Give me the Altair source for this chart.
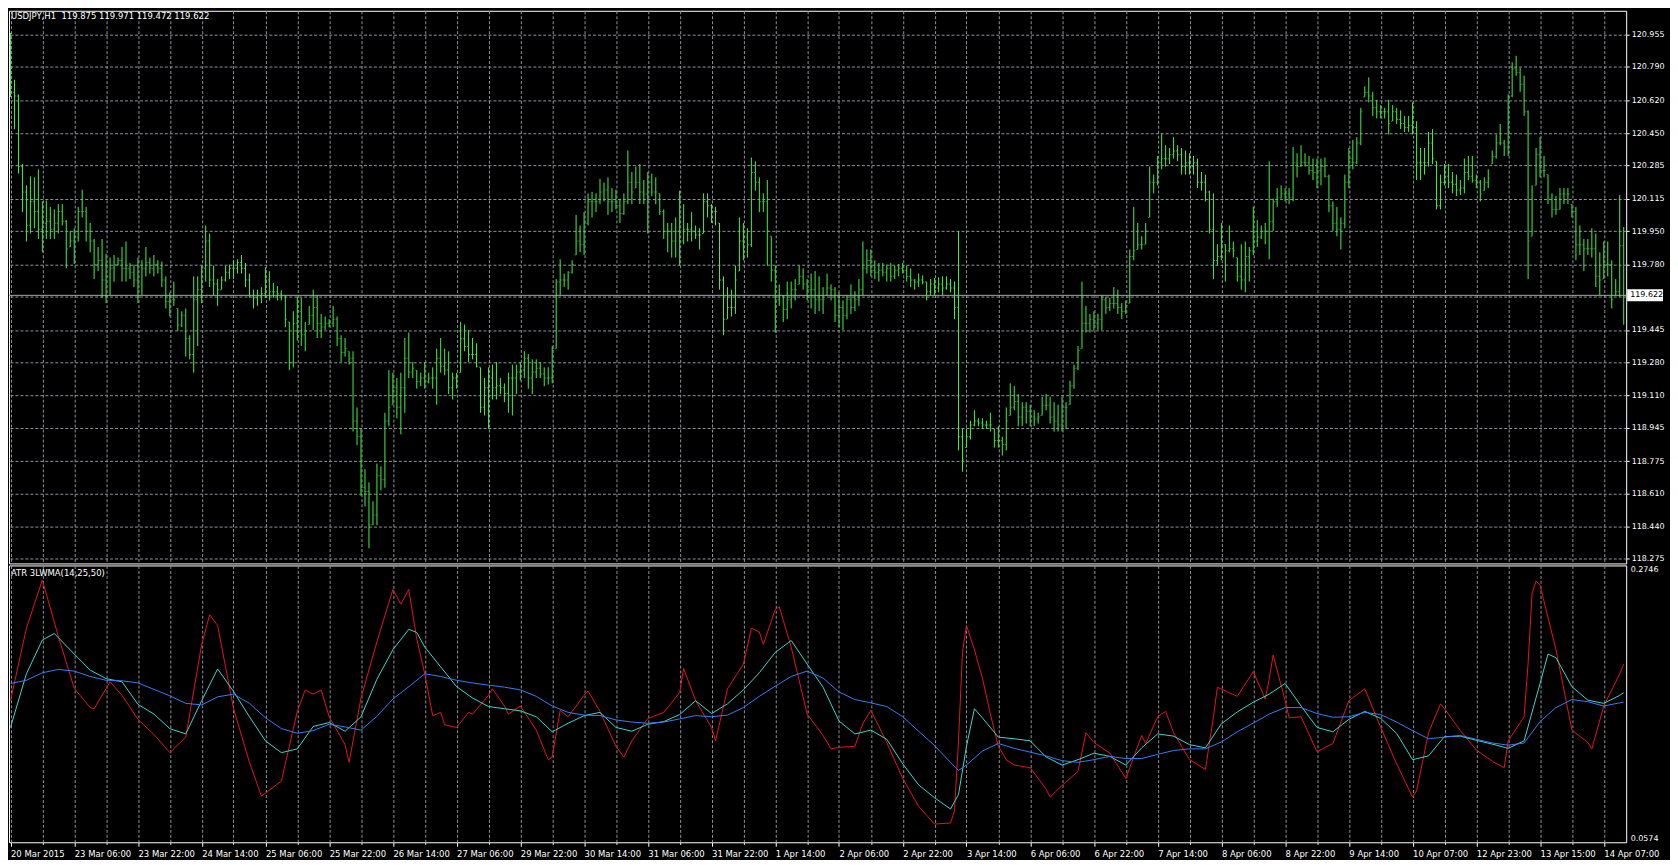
import json
import altair as alt
import pandas as pd

# ---------------- data ----------------
HIGH = [
    120.963,120.723,120.649,120.293,120.184,120.230,120.225,120.266,120.102,120.107,
    120.074,120.061,120.088,120.088,120.006,119.951,119.965,120.074,120.162,120.074,
    119.992,119.910,119.869,119.910,119.834,119.815,119.828,119.815,119.869,119.897,
    119.787,119.779,119.815,119.801,119.869,119.815,119.828,119.801,119.795,119.719,
    119.637,119.692,119.555,119.541,119.555,119.418,119.719,119.719,119.774,119.979,
    119.938,119.774,119.705,119.719,119.774,119.779,119.801,119.806,119.828,119.787,
    119.733,119.651,119.651,119.664,119.765,119.746,119.686,119.670,119.648,119.623,
    119.486,119.541,119.615,119.610,119.486,119.568,119.651,119.623,119.527,119.514,
    119.500,119.568,119.514,119.418,119.404,119.336,119.336,119.049,118.940,118.734,
    118.666,118.570,118.762,118.748,119.022,119.240,119.227,119.199,119.227,119.404,
    119.432,119.281,119.240,119.227,
    119.281,119.227,119.254,119.350,119.404,119.350,119.336,119.227,119.227,119.486,
    119.473,119.445,119.404,119.377,119.254,119.199,119.254,119.268,119.281,119.199,
    119.172,119.227,119.268,119.268,119.281,119.336,119.322,119.295,119.295,119.281,
    119.254,119.254,119.363,119.705,119.806,119.733,119.746,119.801,120.033,119.979,
    120.047,120.143,120.151,120.143,120.217,120.198,120.225,120.170,120.162,120.116,
    120.143,120.362,120.252,120.280,120.293,120.211,120.252,120.244,120.225,120.143,
    120.061,119.992,119.992,120.020,120.157,120.088,119.992,120.047,119.979,119.965,
    120.143,120.143,120.088,120.074,119.992,119.719,119.664,119.651,119.774,120.020,
    119.992,119.965,120.326,120.307,120.225,120.143,120.211,119.924,119.774,119.678,
    119.623,119.692,119.692,119.705,119.774,119.760,119.705,119.733,119.746,119.719,
    119.664,119.733,119.678,
    119.664,119.637,119.596,119.623,119.678,119.643,119.705,119.897,119.856,119.856,
    119.801,119.787,119.787,119.779,119.787,119.774,119.782,119.787,119.774,119.760,
    119.705,119.733,119.724,119.692,119.705,119.711,119.714,119.719,119.719,119.705,
    119.692,119.951,118.940,118.940,118.981,119.035,118.994,118.994,118.981,119.022,
    118.940,118.953,118.899,119.049,119.172,119.158,119.117,119.076,119.076,119.063,
    119.035,119.022,119.104,119.117,119.104,119.076,119.063,119.104,119.076,119.186,
    119.268,119.363,119.692,119.568,119.527,119.541,119.527,119.623,119.615,119.610,
    119.664,119.651,119.582,119.596,119.856,120.074,119.992,119.924,119.992,120.280,
    120.239,120.334,120.450,120.389,120.375,120.430,120.389,120.375,120.362,120.348,
    120.334,120.321,120.252,120.239,120.157,120.143,119.883,119.992,119.883,119.979,
    119.897,119.815,
    119.883,119.897,119.869,120.074,120.006,119.979,119.992,120.307,120.116,120.170,
    120.184,120.170,120.170,120.380,120.348,120.389,120.348,120.334,120.321,120.321,
    120.321,120.326,120.239,120.102,120.074,120.020,120.239,120.375,120.416,120.430,
    120.580,120.690,120.736,120.662,120.621,120.594,120.580,120.621,120.594,120.580,
    120.567,120.539,120.539,120.608,120.512,120.375,120.375,120.457,120.471,120.307,
    120.239,120.293,120.293,120.252,120.239,120.211,120.321,120.334,120.334,120.239,
    120.211,120.225,120.266,120.362,120.444,120.498,120.416,120.649,120.813,120.846,
    120.785,120.744,120.567,120.184,120.375,120.430,120.334,120.239,120.143,120.129,
    120.170,120.170,120.170,120.088,120.074,119.979,119.910,119.910,119.965,119.938,
    119.842,119.897,119.897,119.801,119.705,120.135,119.971,
]
LOW = [
    120.635,120.471,120.244,120.047,119.897,119.938,119.965,119.910,119.842,119.910,
    119.910,119.910,119.938,119.979,119.760,119.869,119.782,119.897,120.020,119.897,
    119.842,119.705,119.746,119.610,119.582,119.623,119.692,119.774,119.692,119.692,
    119.705,119.664,119.582,119.623,119.719,119.733,119.719,119.733,119.664,119.555,
    119.514,119.568,119.440,119.459,119.309,119.295,119.227,119.363,119.582,119.692,
    119.664,119.623,119.568,119.651,119.692,119.705,119.705,119.733,119.733,119.664,
    119.610,119.555,119.568,119.582,119.610,119.596,119.610,119.596,119.596,119.459,
    119.240,119.254,119.391,119.363,119.336,119.473,119.445,119.404,119.404,119.445,
    119.459,119.459,119.363,119.281,119.309,119.268,118.926,118.857,118.598,118.543,
    118.330,118.447,118.447,118.625,118.639,118.953,119.063,118.994,118.912,119.022,
    119.199,119.199,119.145,119.158,
    119.145,119.172,119.145,119.063,119.227,119.213,119.117,119.090,119.145,119.227,
    119.336,119.281,119.295,119.254,119.022,119.008,118.940,119.090,119.090,119.117,
    119.076,119.022,119.008,119.117,119.186,119.199,119.145,119.117,119.199,119.199,
    119.158,119.166,119.172,119.350,119.623,119.664,119.651,119.733,119.828,119.842,
    119.828,119.979,120.020,120.047,120.088,120.102,120.033,120.047,120.061,119.992,
    120.033,120.088,120.088,120.170,120.088,120.088,119.938,120.129,120.088,120.033,
    119.910,119.842,119.815,119.815,119.774,119.883,119.897,119.897,119.910,119.856,
    119.938,120.020,119.992,119.979,119.651,119.418,119.500,119.514,119.527,119.746,
    119.801,119.815,119.869,120.157,120.047,120.047,119.774,119.692,119.432,119.568,
    119.486,119.500,119.555,119.596,119.678,119.651,119.596,119.555,119.527,119.541,
    119.527,119.623,119.596,
    119.486,119.459,119.445,119.500,119.527,119.541,119.568,119.623,119.733,119.719,
    119.705,119.692,119.719,119.692,119.692,119.705,119.719,119.733,119.692,119.664,
    119.651,119.664,119.678,119.596,119.623,119.623,119.637,119.623,119.651,119.637,
    119.500,118.830,118.721,118.844,118.885,118.953,118.953,118.940,118.940,118.926,
    118.844,118.844,118.803,118.830,119.008,119.035,118.953,118.953,118.967,118.953,
    118.953,118.967,119.008,119.035,118.967,118.926,118.926,118.926,118.940,119.063,
    119.145,119.240,119.350,119.432,119.432,119.445,119.445,119.445,119.527,119.541,
    119.555,119.527,119.500,119.527,119.582,119.801,119.856,119.856,119.883,120.020,
    120.143,120.184,120.266,120.280,120.293,120.321,120.307,120.239,120.239,120.239,
    120.239,120.170,120.157,120.102,119.938,119.705,119.774,119.801,119.692,119.842,
    119.815,119.692,
    119.651,119.637,119.692,119.828,119.869,119.910,119.883,119.806,119.951,120.074,
    120.116,120.102,120.088,120.102,120.225,120.280,120.280,120.239,120.211,120.170,
    120.184,120.225,120.047,119.951,119.924,119.856,119.965,120.170,120.266,120.293,
    120.389,120.635,120.608,120.539,120.526,120.526,120.526,120.444,120.512,120.498,
    120.471,120.457,120.457,120.444,120.211,120.211,120.239,120.280,120.293,120.061,
    120.061,120.184,120.170,120.143,120.129,120.135,120.143,120.211,120.198,120.170,
    120.102,120.157,120.170,120.293,120.321,120.389,120.334,120.334,120.635,120.744,
    120.662,120.539,119.705,119.924,120.184,120.225,120.225,120.088,120.020,120.033,
    120.061,120.088,120.088,120.020,119.801,119.828,119.746,119.828,119.815,119.664,
    119.623,119.705,119.719,119.555,119.623,119.615,119.472,
]
CLOSE = [
    120.660,120.640,120.280,120.150,119.980,120.100,120.050,119.960,119.990,120.000,
    119.960,119.990,120.050,120.000,119.860,119.900,119.920,120.050,120.050,119.950,
    119.900,119.780,119.800,119.700,119.720,119.760,119.780,119.800,119.760,119.760,
    119.740,119.700,119.680,119.760,119.790,119.760,119.780,119.760,119.700,119.590,
    119.600,119.600,119.470,119.520,119.400,119.320,119.600,119.650,119.760,119.900,
    119.700,119.680,119.650,119.700,119.740,119.760,119.760,119.790,119.760,119.700,
    119.620,119.610,119.620,119.630,119.700,119.640,119.640,119.630,119.620,119.500,
    119.280,119.480,119.540,119.420,119.440,119.520,119.560,119.480,119.460,119.480,
    119.480,119.500,119.400,119.330,119.350,119.300,118.980,118.900,118.640,118.620,
    118.450,118.500,118.700,118.680,118.980,119.050,119.150,119.050,119.150,119.300,
    119.230,119.250,119.180,119.200,
    119.180,119.200,119.200,119.300,119.260,119.240,119.150,119.200,119.200,119.400,
    119.360,119.320,119.320,119.260,119.050,119.150,119.200,119.150,119.160,119.150,
    119.120,119.200,119.200,119.230,119.240,119.300,119.200,119.230,119.250,119.220,
    119.200,119.200,119.350,119.690,119.700,119.700,119.740,119.780,119.900,119.880,
    119.990,120.100,120.100,120.100,120.150,120.160,120.100,120.100,120.080,120.040,
    120.100,120.200,120.150,120.200,120.150,120.140,120.200,120.150,120.150,120.050,
    119.950,119.950,119.900,119.950,119.900,119.960,119.960,119.950,119.930,119.930,
    120.100,120.080,120.050,120.050,119.700,119.500,119.560,119.560,119.700,119.900,
    119.920,119.880,120.250,120.200,120.100,120.100,119.950,119.750,119.600,119.620,
    119.550,119.600,119.650,119.650,119.720,119.680,119.650,119.650,119.600,119.600,
    119.600,119.660,119.650,
    119.520,119.560,119.520,119.600,119.560,119.600,119.650,119.760,119.800,119.750,
    119.740,119.750,119.740,119.760,119.720,119.750,119.760,119.750,119.720,119.700,
    119.690,119.700,119.690,119.640,119.680,119.660,119.680,119.660,119.680,119.660,
    119.560,118.900,118.780,118.900,118.960,118.980,118.970,118.960,118.960,118.960,
    118.880,118.880,118.860,118.980,119.050,119.080,119.000,119.050,119.030,119.000,
    118.990,119.000,119.060,119.060,119.000,118.980,118.960,119.050,119.050,119.160,
    119.250,119.340,119.480,119.480,119.500,119.480,119.500,119.600,119.560,119.580,
    119.580,119.560,119.540,119.570,119.820,119.850,119.880,119.880,119.950,120.200,
    120.200,120.300,120.320,120.320,120.340,120.360,120.340,120.280,120.300,120.280,
    120.300,120.200,120.200,120.150,119.960,119.800,119.820,119.880,119.850,119.860,
    119.850,119.720,
    119.700,119.820,119.850,119.900,119.920,119.950,119.950,120.000,120.100,120.120,
    120.140,120.140,120.120,120.300,120.280,120.300,120.300,120.260,120.250,120.260,
    120.280,120.230,120.080,119.990,119.960,119.990,120.200,120.320,120.300,120.400,
    120.560,120.660,120.640,120.580,120.560,120.560,120.560,120.500,120.560,120.520,
    120.500,120.480,120.490,120.480,120.300,120.300,120.300,120.400,120.320,120.080,
    120.200,120.230,120.200,120.190,120.160,120.170,120.250,120.230,120.210,120.200,
    120.140,120.200,120.220,120.330,120.400,120.400,120.380,120.640,120.780,120.760,
    120.700,120.560,119.900,120.150,120.340,120.260,120.260,120.120,120.060,120.060,
    120.140,120.140,120.140,120.050,119.880,119.880,119.860,119.860,119.860,119.720,
    119.700,119.780,119.780,119.600,119.640,119.875,119.622,
]
FIRST_OPEN = 120.900

RED_I = [0,4,8,12,16,20,21,25,28,32,36,40,44,48,50,52,56,60,63,68,72,74,76,78,80,84,85,88,92,96,98,100,102,
         104,106,108,109,112,115,116,120,121,124,125,128,132,135,136,138,140,144,145,148,152,154,156,160,164,
         168,169,172,176,177,180,184,186,188,189,192,193,196,200,204,206,208,212,214,216,220,224,228,232,236,
         237,238,239,240,242,244,246,248,250,252,256,260,261,264,268,270,272,276,280,284,285,288,290,292,296,
         300,302,303,308,312,315,316,317,320,321,324,328,332,336,340,344,348,352,353,356,359,360,364,368,372,
         375,376,380,381,382,383,384,388,392,396,397,400,404,405]
RED_V = [0.1685,0.2254,0.2632,0.2190,0.1782,0.1631,0.1622,0.1833,0.1727,0.1538,0.1420,0.1277,0.1399,0.2127,
         0.2359,0.2275,0.1622,0.1201,0.0936,0.1054,0.1601,0.1769,0.1736,0.1769,0.1559,0.1340,0.1201,0.1706,
         0.2148,0.2557,0.2443,0.2557,0.2170,
         0.1896,0.1567,0.1593,0.1496,0.1475,0.1593,0.1580,0.1727,0.1778,0.1643,0.1580,0.1643,0.1454,0.1222,
         0.1243,0.1609,0.1559,0.1727,0.1761,0.1601,0.1327,0.1243,0.1370,0.1546,0.1593,0.1748,0.1938,0.1685,
         0.1475,0.1370,0.1778,0.1971,0.2254,0.2224,0.2127,0.2401,0.2422,0.2106,0.1580,0.1412,0.1307,
         0.1319,0.1327,0.1508,0.1609,0.1357,0.1075,0.0856,0.0717,0.0725,0.0822,0.1370,0.2064,0.2275,0.2085,
         0.1862,0.1580,0.1327,0.1222,0.1180,0.1159,0.0991,0.0928,0.1020,0.1130,0.1433,0.1357,0.1273,0.1075,
         0.1412,0.1349,0.1559,0.1601,0.1433,0.1222,0.1146,0.1559,0.1790,0.1719,
         0.1913,0.1698,0.1854,0.2043,0.1685,0.1551,0.1559,0.1285,0.1349,0.1685,0.1778,0.1475,0.1189,0.0928,
         0.0978,0.1433,0.1660,0.1622,0.1450,0.1298,0.1210,0.1159,0.1370,0.1559,0.1980,0.2527,0.2624,0.2590,
         0.2085,0.1454,0.1357,0.1307,0.1643,0.1896,0.1971]

CYAN_I = [0,4,8,11,16,20,24,28,32,36,40,44,48,52,56,60,64,68,72,76,80,84,88,92,96,100,102,
          104,108,112,116,120,124,128,132,136,140,144,148,152,156,160,164,168,172,176,180,184,188,192,196,
          200,204,208,212,216,220,224,228,232,236,238,240,242,244,248,252,256,260,264,268,272,276,280,284,
          288,292,296,300,304,308,312,316,320,324,328,332,336,340,344,348,352,356,360,364,368,372,376,380,
          384,386,388,392,396,400,404,405]
CYAN_V = [0.1475,0.1896,0.2161,0.2212,0.2051,0.1925,0.1858,0.1833,0.1656,0.1580,0.1466,0.1424,0.1685,0.1934,
          0.1757,0.1559,0.1370,0.1277,0.1307,0.1483,0.1513,0.1445,0.1559,0.1854,0.2085,0.2245,0.2220,
          0.2106,0.1950,0.1795,0.1706,0.1639,0.1622,0.1605,0.1559,0.1441,0.1508,0.1567,0.1593,0.1475,0.1445,
          0.1500,0.1521,0.1576,0.1685,0.1584,0.1660,0.1770,0.1904,0.2064,0.2157,0.1972,0.1791,
          0.1525,0.1424,0.1454,0.1382,0.1189,0.1024,0.0923,0.0835,0.0949,0.1327,0.1622,0.1550,0.1399,0.1386,
          0.1370,0.1243,0.1180,0.1222,0.1273,0.1248,0.1180,0.1315,0.1424,0.1407,0.1340,0.1315,0.1504,0.1597,
          0.1673,0.1736,0.1820,0.1643,0.1475,0.1441,0.1538,0.1601,0.1546,0.1428,0.1222,0.1252,0.1403,0.1407,
          0.1374,0.1344,0.1311,0.1370,0.1820,0.2051,0.2022,0.1795,0.1689,0.1664,0.1727,0.1748]

BLUE_I = [0,4,8,12,16,20,24,28,32,36,40,44,48,52,56,60,64,68,72,76,80,84,88,92,96,100,
          104,108,112,116,120,124,128,132,136,140,144,148,152,156,160,164,168,172,176,180,184,188,192,196,
          200,204,208,212,216,220,224,228,232,236,238,240,244,248,252,256,260,264,268,272,276,280,284,288,
          292,296,300,304,308,312,316,320,324,328,332,336,340,344,348,352,356,360,364,368,372,376,380,384,
          388,392,396,400,404,405]
BLUE_V = [0.1820,0.1845,0.1904,0.1930,0.1917,0.1875,0.1845,0.1841,0.1824,0.1774,0.1723,0.1664,0.1652,0.1715,
          0.1736,0.1664,0.1551,0.1466,0.1429,0.1450,0.1500,0.1479,0.1454,0.1563,0.1698,0.1795,
          0.1896,0.1875,0.1845,0.1824,0.1807,0.1791,0.1770,0.1719,0.1643,0.1593,0.1572,0.1568,0.1534,0.1517,
          0.1508,0.1517,0.1542,0.1568,0.1559,0.1572,0.1631,0.1719,0.1799,0.1875,0.1917,0.1862,
          0.1753,0.1694,0.1668,0.1639,0.1559,0.1445,0.1332,0.1201,0.1138,0.1180,0.1290,0.1349,0.1311,0.1281,
          0.1252,0.1214,0.1201,0.1222,0.1248,0.1231,0.1231,0.1264,0.1294,0.1307,0.1307,0.1361,0.1441,0.1509,
          0.1580,0.1631,0.1631,0.1584,0.1555,0.1559,0.1593,0.1576,0.1517,0.1450,0.1386,0.1399,0.1412,0.1382,
          0.1353,0.1336,0.1353,0.1521,0.1631,0.1694,0.1677,0.1643,0.1668,0.1673]

X_LABELS = ["20 Mar 2015", "23 Mar 06:00", "23 Mar 22:00", "24 Mar 14:00", "25 Mar 06:00",
            "25 Mar 22:00", "26 Mar 14:00", "27 Mar 06:00", "29 Mar 22:00", "30 Mar 14:00",
            "31 Mar 06:00", "31 Mar 22:00", "1 Apr 14:00", "2 Apr 06:00", "2 Apr 22:00",
            "3 Apr 14:00", "6 Apr 06:00", "6 Apr 22:00", "7 Apr 14:00", "8 Apr 06:00",
            "8 Apr 22:00", "9 Apr 14:00", "10 Apr 07:00", "12 Apr 23:00", "13 Apr 15:00",
            "14 Apr 07:00"]
PRICE_TICKS = [120.955, 120.790, 120.620, 120.450, 120.285, 120.115, 119.950, 119.780, 119.615,
               119.445, 119.280, 119.110, 118.945, 118.775, 118.610, 118.440, 118.275]
ATR_TICKS = [0.0574, 0.2746]
CUR_PRICE = 119.622
HEADER = "USDJPY,H1\u00a0\u00a0119.875 119.971 119.472 119.622"
IND_TITLE = "ATR 3LWMA(14,25,50)"

assert len(HIGH) == len(LOW) == len(CLOSE) == 406
assert len(RED_I) == len(RED_V) and len(CYAN_I) == len(CYAN_V) and len(BLUE_I) == len(BLUE_V)

# ---------------- frames ----------------
n = len(HIGH)
bars = pd.DataFrame({"i": list(range(n)), "high": HIGH, "low": LOW, "close": CLOSE,
                     "open": [FIRST_OPEN] + CLOSE[:-1]})
bars["open"] = bars["open"].clip(lower=bars["low"], upper=bars["high"])
red_df = pd.DataFrame({"i": RED_I, "v": RED_V})
cyan_df = pd.DataFrame({"i": CYAN_I, "v": CYAN_V})
blue_df = pd.DataFrame({"i": BLUE_I, "v": BLUE_V})
cur_df = pd.DataFrame({"p": [CUR_PRICE], "label": [f"{CUR_PRICE:.3f}"]})

# ---------------- style ----------------
W, H1, H2 = 1624, 555, 278          # svg must stay <= 1662 px wide (body width)
FONT = "DejaVu Sans"
FS = 8.5
AFS = 8
GRID = "#8c949c"
GREEN = "#46f046"
RED, CYAN, BLUE = "#e3161c", "#40d6cc", "#3a7cf2"

# exactly 4 px per bar, bar centres on half pixels (crisp 1px bars)
XS = alt.Scale(domain=[-0.375, -0.375 + W / 4], nice=False, zero=False)
YS1 = alt.Scale(domain=[118.252, 121.076], nice=False, zero=False)
YS2 = alt.Scale(domain=[ATR_TICKS[0], ATR_TICKS[1]], nice=False, zero=False)

xvals = list(range(0, 408, 8))
lbl_arr = json.dumps(X_LABELS)

x_top_axis = alt.Axis(values=xvals, grid=True, gridColor=GRID, gridDash=[3, 2], gridWidth=1,
                      labels=False, ticks=False, domain=False, title=None)
x_bot_axis = alt.Axis(values=xvals, grid=True, gridColor=GRID, gridDash=[3, 2], gridWidth=1,
                      labelExpr=f"datum.value % 16 == 0 ? {lbl_arr}[datum.value / 16] : ''",
                      labelAlign="left", labelBaseline="top", labelPadding=3, labelOverlap=False,
                      labelFlush=False, labelColor="white", labelFont=FONT, labelFontSize=FS,
                      ticks=True, tickColor="white", tickWidth=1,
                      tickSize={"condition": {"test": "datum.value % 16 == 0", "value": 4}, "value": 2},
                      domain=False, title=None)
y_top_axis = alt.Axis(orient="right", values=PRICE_TICKS,
                      labelExpr="abs(datum.value - 119.615) < 0.001 ? '' : format(datum.value, '.3f')",
                      grid=True, gridColor=GRID, gridDash=[3, 2], gridWidth=1,
                      ticks=True, tickSize=3, tickColor="white", labelPadding=2,
                      labelColor="white", labelFont=FONT, labelFontSize=AFS,
                      domain=False, title=None)
y_bot_axis = alt.Axis(orient="right", values=ATR_TICKS, format=".4f", labelFlush=True,
                      grid=False, ticks=False, domain=False, labelPadding=4,
                      labelColor="white", labelFont=FONT, labelFontSize=AFS, title=None)

# ---------------- upper panel ----------------
base = alt.Chart(bars)
hl = base.mark_rule(color=GREEN, strokeWidth=1).encode(
    x=alt.X("i:Q", scale=XS, axis=x_top_axis),
    y=alt.Y("low:Q", scale=YS1, axis=y_top_axis),
    y2="high:Q",
)
op = base.mark_tick(color=GREEN, orient="horizontal", size=1, thickness=1, xOffset=-1).encode(
    x=alt.X("i:Q", scale=XS, axis=x_top_axis),
    y=alt.Y("open:Q", scale=YS1, axis=y_top_axis),
)
cl = base.mark_tick(color=GREEN, orient="horizontal", size=1, thickness=1, xOffset=1).encode(
    x=alt.X("i:Q", scale=XS, axis=x_top_axis),
    y=alt.Y("close:Q", scale=YS1, axis=y_top_axis),
)
cur_line = alt.Chart(cur_df).mark_rule(color="#a8a8a8", strokeWidth=1).encode(
    y=alt.Y("p:Q", scale=YS1, axis=y_top_axis)
)
cur_box = alt.Chart(cur_df).mark_rule(color="white", strokeWidth=12).encode(
    y=alt.Y("p:Q", scale=YS1, axis=y_top_axis), x=alt.value(W + 1), x2=alt.value(W + 37)
)
cur_txt = alt.Chart(cur_df).mark_text(align="left", baseline="middle", color="black",
                                      font=FONT, fontSize=AFS).encode(
    y=alt.Y("p:Q", scale=YS1, axis=y_top_axis), x=alt.value(W + 4), text="label:N"
)
head = alt.Chart(pd.DataFrame({"t": [HEADER]})).mark_text(
    align="left", baseline="top", color="white", font=FONT, fontSize=FS
).encode(x=alt.value(2), y=alt.value(1), text="t:N")

upper = alt.layer(hl, op, cl, cur_line, cur_box, cur_txt, head).properties(width=W, height=H1)

# ---------------- lower panel ----------------
def line(df, color):
    return alt.Chart(df).mark_line(color=color, strokeWidth=1).encode(
        x=alt.X("i:Q", scale=XS, axis=x_bot_axis),
        y=alt.Y("v:Q", scale=YS2, axis=y_bot_axis),
    )

ind_head = alt.Chart(pd.DataFrame({"t": [IND_TITLE]})).mark_text(
    align="left", baseline="top", color="white", font=FONT, fontSize=FS
).encode(x=alt.value(2), y=alt.value(4), text="t:N")

lower = alt.layer(line(red_df, RED), line(cyan_df, CYAN), line(blue_df, BLUE), ind_head).properties(
    width=W, height=H2)

chart = alt.vconcat(upper, lower, spacing=2, bounds="flush").properties(
    background="black", padding=0
).configure_view(stroke="white", strokeWidth=1)

chart.save("out.html", embed_options={"renderer": "svg", "actions": False})
